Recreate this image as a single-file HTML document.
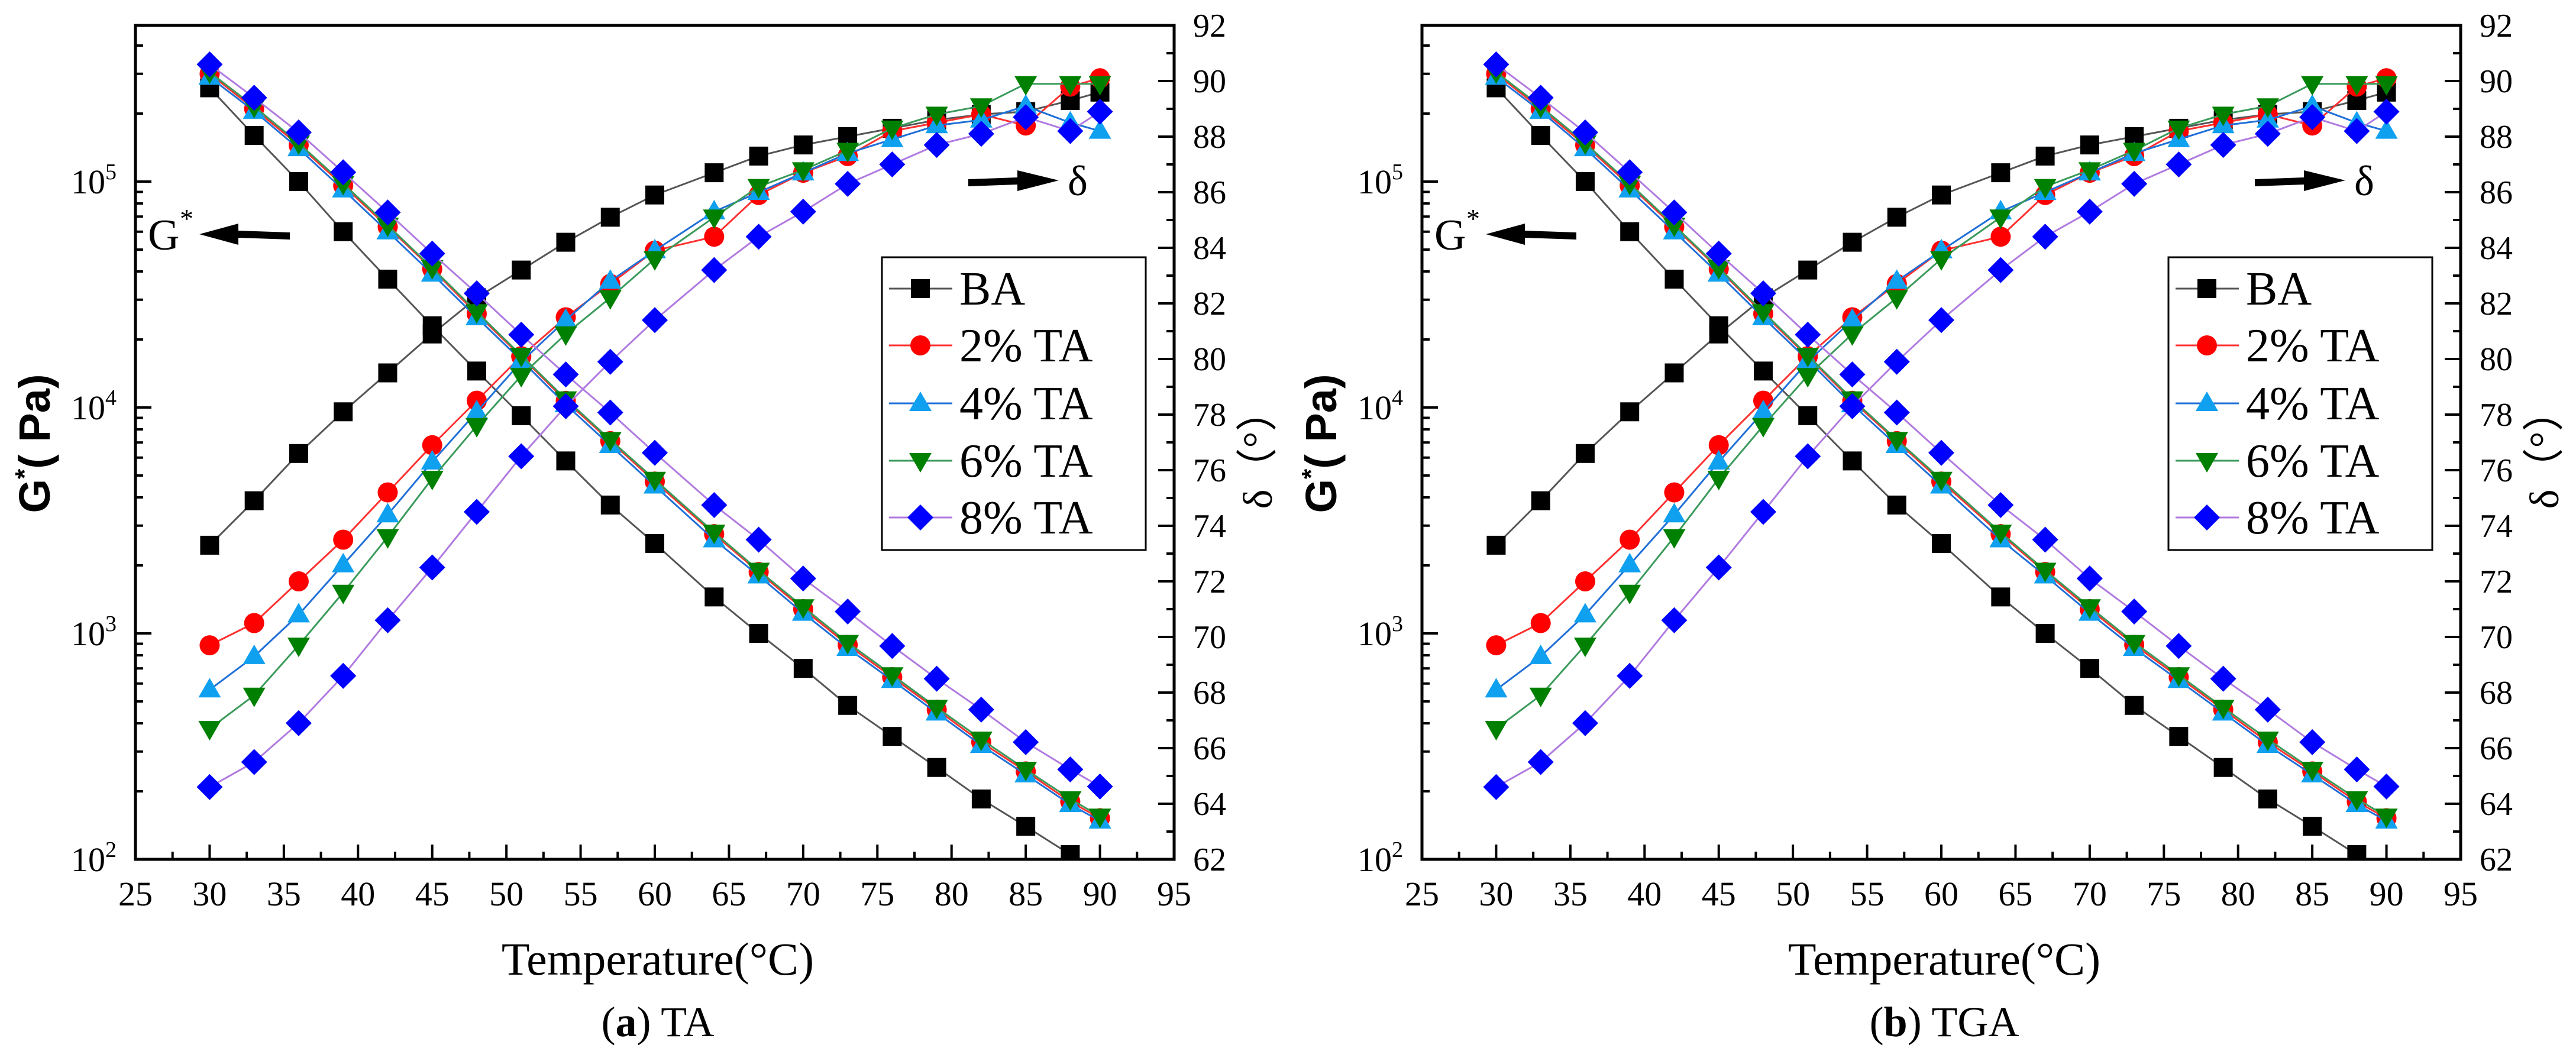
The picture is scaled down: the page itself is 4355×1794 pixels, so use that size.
<!DOCTYPE html>
<html><head><meta charset="utf-8"><style>
html,body{margin:0;padding:0;background:#fff;}
svg{display:block;}
svg text{font-family:"Liberation Serif","Times New Roman",serif;fill:#000;}
</style></head><body>
<svg id="fig" width="4355" height="1794" viewBox="0 0 4355 1794" xmlns="http://www.w3.org/2000/svg" font-family="Liberation Serif, serif"></svg>
<script>
const temps = [30,33,36,39,42,45,48,51,54,57,60,64,67,70,73,76,79,82,85,88,90];
const gBA = [2.6e5,1.6e5,1.0e5,6.0e4,3.7e4,2.3e4,1.45e4,9.2e3,5.8e3,3.7e3,2.5e3,1.45e3,1.0e3,700,480,350,255,185,140,105,90];
const g2 = [3.0e5,2.1e5,1.45e5,9.6e4,6.3e4,4.1e4,2.6e4,1.68e4,1.07e4,7.1e3,4.7e3,2.75e3,1.87e3,1.28e3,890,640,460,330,245,180,152];
const g4 = [2.9e5,2.05e5,1.4e5,9.2e4,6.0e4,3.9e4,2.5e4,1.62e4,1.03e4,6.8e3,4.5e3,2.6e3,1.8e3,1.23e3,860,620,445,320,237,175,148];
const g6 = [3.05e5,2.15e5,1.48e5,9.8e4,6.4e4,4.15e4,2.65e4,1.7e4,1.09e4,7.2e3,4.8e3,2.8e3,1.9e3,1.31e3,910,655,470,340,250,185,155];
const g8 = [3.3e5,2.35e5,1.65e5,1.1e5,7.3e4,4.8e4,3.2e4,2.1e4,1.4e4,9.5e3,6.3e3,3.7e3,2.6e3,1.75e3,1.25e3,880,630,460,330,250,210];
const dBA = [73.3,74.9,76.6,78.1,79.5,80.9,82.2,83.2,84.2,85.1,85.9,86.7,87.3,87.7,88.0,88.3,88.6,88.8,88.9,89.3,89.6];
const d2 = [69.7,70.5,72.0,73.5,75.2,76.9,78.5,80.1,81.5,82.7,83.9,84.4,85.9,86.7,87.3,88.2,88.5,88.8,88.4,89.8,90.1];
const d4 = [68.1,69.3,70.8,72.6,74.4,76.3,78.1,79.9,81.4,82.8,83.9,85.3,86.0,86.7,87.4,87.9,88.4,88.6,89.1,88.5,88.2];
const d6 = [66.7,67.9,69.7,71.6,73.6,75.7,77.6,79.4,80.9,82.2,83.6,85.1,86.2,86.8,87.5,88.3,88.8,89.1,89.9,89.9,89.9];
const d8 = [64.6,65.5,66.9,68.6,70.6,72.5,74.5,76.5,78.3,79.9,81.4,83.2,84.4,85.3,86.3,87.0,87.7,88.1,88.7,88.2,88.9];
const xTicks = [25,30,35,40,45,50,55,60,65,70,75,80,85,90,95];
const rTicks = [62,64,66,68,70,72,74,76,78,80,82,84,86,88,90,92];
const lExps = [2,3,4,5];
const seriesNames = ["BA","2% TA","4% TA","6% TA","8% TA"];

const NS="http://www.w3.org/2000/svg";
const SERIF='font-family:"Liberation Serif","Times New Roman",serif';
const svg=document.getElementById('fig');
function mk(tag,attrs,parent){const e=document.createElementNS(NS,tag);for(const k in attrs)e.setAttribute(k,attrs[k]);if(tag==='text'&&!attrs.style)e.setAttribute('style',SERIF);(parent||svg).appendChild(e);return e;}

const styles=[
 {line:"#555555",fill:"#000000",shape:"square"},
 {line:"#ff3030",fill:"#ff0000",shape:"circle"},
 {line:"#1f6fd8",fill:"#10a0f0",shape:"tri"},
 {line:"#3a9a5a",fill:"#008000",shape:"dtri"},
 {line:"#b07ae0",fill:"#0000ff",shape:"diamond"}
];
const gSets=[gBA,g2,g4,g6,g8];
const dSets=[dBA,d2,d4,d6,d8];

function marker(g,shape,x,y,fill){
  let e;
  if(shape==="square") e=mk('rect',{x:x-16,y:y-16,width:32,height:32,fill:fill},g);
  else if(shape==="circle") e=mk('circle',{cx:x,cy:y,r:17,fill:fill},g);
  else if(shape==="tri") e=mk('polygon',{points:`${x},${y-20} ${x+19},${y+13} ${x-19},${y+13}`,fill:fill},g);
  else if(shape==="dtri") e=mk('polygon',{points:`${x},${y+20} ${x+19},${y-13} ${x-19},${y-13}`,fill:fill},g);
  else e=mk('polygon',{points:`${x},${y-22} ${x+22},${y} ${x},${y+22} ${x-22},${y}`,fill:fill},g);
  return e;
}

function panel(ox,label,letter,pid){
  const L=229+ox,R=1985+ox,T=43,B=1453;
  const xs=v=>L+(v-25)/70*(R-L);
  const yl=v=>B-(Math.log10(v)-2)*382;
  const yr=v=>B-(v-62)/30*(B-T);
  const root=mk('g',{});
  
  
  const defs=mk('defs',{},root);
  const cp=mk('clipPath',{id:'clip'+pid},defs);
  mk('rect',{x:L,y:T,width:R-L,height:B-T},cp);
  const tg=mk('g',{stroke:"#000","stroke-width":4},root);
  
  
  for(let v=25;v<=95;v+=2.5){const x=xs(v);const len=(v%5===0)?25:13;mk('line',{x1:x,y1:B,x2:x,y2:B-len},tg);}
  for(let e=2;e<=5;e++){for(let m=1;m<=9;m++){const val=m*Math.pow(10,e);const y=yl(val);if(y<T)continue;mk('line',{x1:L,y1:y,x2:L+(m===1?27:13),y2:y},tg);}}
  for(let v=62;v<=92;v+=1){const y=yr(v);mk('line',{x1:R,y1:y,x2:R-(v%2===0?27:13),y2:y},tg);}
  xTicks.forEach(v=>{const t=mk('text',{x:xs(v),y:1531,"font-size":58,"text-anchor":"middle"},root);t.textContent=v;});
  rTicks.forEach(v=>{const t=mk('text',{x:R+32,y:yr(v)+19,"font-size":56},root);t.textContent=v;});
  lExps.forEach(e=>{const t=mk('text',{x:L-32,y:yl(Math.pow(10,e))+20,"font-size":58,"text-anchor":"end"},root);
    
    const a=mk('tspan',{},t);a.textContent="10";const b=mk('tspan',{dy:-24,"font-size":38},t);b.textContent=e;});
  const dg=mk('g',{"clip-path":`url(#clip${pid})`},root);
  for(let s=0;s<5;s++){
    const st=styles[s];
    const sg=mk('g',{},dg);
    
    
    const gp=temps.map((t,i)=>`${xs(t).toFixed(1)},${yl(gSets[s][i]).toFixed(1)}`).join(' ');
    const dp=temps.map((t,i)=>`${xs(t).toFixed(1)},${yr(dSets[s][i]).toFixed(1)}`).join(' ');
    mk('polyline',{points:gp,fill:"none",stroke:st.line,"stroke-width":3},sg);
    mk('polyline',{points:dp,fill:"none",stroke:st.line,"stroke-width":3},sg);
    temps.forEach((t,i)=>{marker(sg,st.shape,xs(t),yl(gSets[s][i]),st.fill);marker(sg,st.shape,xs(t),yr(dSets[s][i]),st.fill);});
  }
  const fr=mk('rect',{x:L,y:T,width:R-L,height:B-T,fill:"none",stroke:"#000","stroke-width":5},root);
  
  const lg=mk('g',{},root);
  
  mk('rect',{x:1491+ox,y:435,width:446,height:495,fill:"#fff",stroke:"#000","stroke-width":3},lg);
  const rows=[488,584,682,779,875];
  for(let s=0;s<5;s++){
    const eg=mk('g',{},lg);
    
    mk('line',{x1:1503+ox,y1:rows[s],x2:1610+ox,y2:rows[s],stroke:styles[s].line,"stroke-width":3},eg);
    marker(eg,styles[s].shape,1556+ox,rows[s],styles[s].fill);
    const t=mk('text',{x:1622+ox,y:rows[s]+27,"font-size":80},eg);t.textContent=seriesNames[s];
  }
  const an=mk('g',{},root);
  
  const gt=mk('text',{x:250+ox,y:422,"font-size":74},an);gt.textContent="G";
  const gs=mk('text',{x:304+ox,y:385,"font-size":46},an);gs.textContent="*";
  mk('polygon',{points:`${337+ox},${396} ${403+ox},${378} ${403+ox},${390} ${490+ox},${393} ${490+ox},${405} ${403+ox},${402} ${403+ox},${414}`,fill:"#000"},an);
  const an2=mk('g',{},root);
  
  mk('polygon',{points:`${1637+ox},${303} ${1720+ox},${300} ${1720+ox},${288} ${1790+ox},${305} ${1720+ox},${323} ${1720+ox},${312} ${1637+ox},${315}`,fill:"#000"},an2);
  const dt=mk('text',{x:1805+ox,y:330,"font-size":72},an2);dt.textContent="δ";
  const yt=mk('text',{transform:`translate(${84+ox},750) rotate(-90)`,"font-size":74,"text-anchor":"middle","font-weight":"bold",style:'font-family:"Liberation Sans",sans-serif'},root);
  
  const y1=mk('tspan',{},yt);y1.textContent="G";const y2=mk('tspan',{dy:-28,"font-size":44},yt);y2.textContent="*";const y3=mk('tspan',{dy:28},yt);y3.textContent="(  Pa)";
  const rt=mk('text',{transform:`translate(${2150+ox},760) rotate(-90)`,"font-size":70,"text-anchor":"middle"},root);
  rt.textContent="δ（°）";
  const xt=mk('text',{x:(L+R)/2+5,y:1648,"font-size":78,"text-anchor":"middle"},root);
  xt.textContent="Temperature(°C)";
  const cap=mk('text',{x:(L+R)/2+5,y:1752,"font-size":72,"text-anchor":"middle"},root);
  
  const c1=mk('tspan',{},cap);c1.textContent="(";const c2=mk('tspan',{"font-weight":"bold"},cap);c2.textContent=letter;const c3=mk('tspan',{},cap);c3.textContent=") "+label;
}
panel(0,"TA","a","panel-a");
panel(2175,"TGA","b","panel-b");
</script>
</body></html>
